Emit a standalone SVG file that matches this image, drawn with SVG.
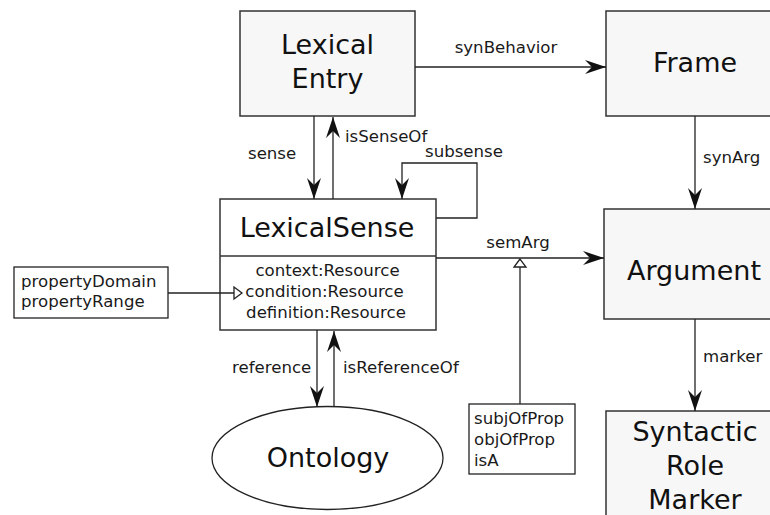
<svg xmlns="http://www.w3.org/2000/svg" width="770" height="515" viewBox="0 0 770 515">
  <defs>
    <style>
      .box { fill: #f7f7f7; stroke: #333; stroke-width: 1.5; }
      .note { fill: #ffffff; stroke: #222; stroke-width: 1.3; }
      .title { font-family: "DejaVu Sans", sans-serif; font-size: 27px; fill: #111; text-anchor: middle; }
      .lbl { font-family: "DejaVu Sans", sans-serif; font-size: 16.6px; fill: #1a1a1a; }
      .mid { text-anchor: middle; }
      .edge { fill: none; stroke: #222; stroke-width: 1.3; }
    </style>
    <marker id="arrow" markerUnits="userSpaceOnUse" viewBox="-22 -8 24 16" markerWidth="24" markerHeight="16" refX="0" refY="0" orient="auto">
      <path d="M0,0 L-21,-7 L-14,0 L-21,7 Z" fill="#111"/>
    </marker>
    <marker id="hollow" markerUnits="userSpaceOnUse" viewBox="-10 -8 12 16" markerWidth="12" markerHeight="16" refX="0" refY="0" orient="auto">
      <path d="M0,0 L-8,-6 L-8,6 Z" fill="#fff" stroke="#222" stroke-width="1.3"/>
    </marker>
  </defs>

  <g id="lexical-entry">
    <rect class="box" x="240" y="11" width="175" height="105"/>
    <text class="title" x="327.5" y="54">Lexical</text>
    <text class="title" x="327.5" y="88">Entry</text>
  </g>

  <g id="frame">
    <rect class="box" x="606" y="11" width="180" height="105"/>
    <text class="title" x="695" y="72">Frame</text>
  </g>

  <g id="lexical-sense">
    <rect x="220" y="199" width="216" height="131" fill="#ffffff" stroke="#333" stroke-width="1.5"/>
    <text class="title" x="327" y="237">LexicalSense</text>
    <line x1="220" y1="256" x2="436" y2="256" stroke="#333" stroke-width="1.3"/>
    <text class="lbl mid" x="327.5" y="276">context:Resource</text>
    <text class="lbl mid" x="324.5" y="297">condition:Resource</text>
    <text class="lbl mid" x="326" y="318">definition:Resource</text>
  </g>

  <g id="argument">
    <rect class="box" x="604" y="209" width="182" height="110"/>
    <text class="title" x="694" y="280">Argument</text>
  </g>

  <g id="syntactic-role-marker">
    <rect class="box" x="606" y="411" width="180" height="120"/>
    <text class="title" x="695" y="441">Syntactic</text>
    <text class="title" x="695" y="475">Role</text>
    <text class="title" x="695" y="509">Marker</text>
  </g>

  <g id="ontology">
    <ellipse cx="327.5" cy="458" rx="115.5" ry="51.5" fill="#ffffff" stroke="#222" stroke-width="1.3"/>
    <text class="title" x="328" y="467">Ontology</text>
  </g>

  <g id="property-note">
    <rect class="note" x="14" y="267" width="154" height="51"/>
    <text class="lbl" x="21" y="287">propertyDomain</text>
    <text class="lbl" x="21" y="307">propertyRange</text>
  </g>

  <g id="relation-note">
    <rect class="note" x="469" y="404" width="106" height="70"/>
    <text class="lbl" x="474" y="424">subjOfProp</text>
    <text class="lbl" x="474" y="445">objOfProp</text>
    <text class="lbl" x="474" y="466">isA</text>
  </g>

  <!-- connectors, drawn over the nodes -->
  <g id="connectors">
    <line class="edge" x1="415" y1="67" x2="606" y2="67" marker-end="url(#arrow)"/>
    <text class="lbl mid" x="506" y="53">synBehavior</text>

    <line class="edge" x1="314" y1="116" x2="314" y2="199" marker-end="url(#arrow)"/>
    <text class="lbl" x="248" y="159">sense</text>
    <line class="edge" x1="333" y1="199" x2="333" y2="117" marker-end="url(#arrow)"/>
    <text class="lbl" x="345" y="142">isSenseOf</text>

    <polyline class="edge" points="436,218 477,218 477,163 402,163 402,199" marker-end="url(#arrow)"/>
    <text class="lbl" x="425" y="157">subsense</text>

    <line class="edge" x1="436" y1="258" x2="604" y2="258" marker-end="url(#arrow)"/>
    <text class="lbl mid" x="518" y="248">semArg</text>
    <line class="edge" x1="520" y1="404" x2="520" y2="259" marker-end="url(#hollow)"/>

    <line class="edge" x1="168" y1="293" x2="242" y2="293" marker-end="url(#hollow)"/>

    <line class="edge" x1="317" y1="330" x2="317" y2="407" marker-end="url(#arrow)"/>
    <text class="lbl" x="232" y="373">reference</text>
    <line class="edge" x1="334" y1="407" x2="334" y2="331" marker-end="url(#arrow)"/>
    <text class="lbl" x="343" y="373">isReferenceOf</text>

    <line class="edge" x1="695" y1="116" x2="695" y2="209" marker-end="url(#arrow)"/>
    <text class="lbl" x="703" y="163">synArg</text>

    <line class="edge" x1="695" y1="319" x2="695" y2="411" marker-end="url(#arrow)"/>
    <text class="lbl" x="703" y="362">marker</text>
  </g>
</svg>
